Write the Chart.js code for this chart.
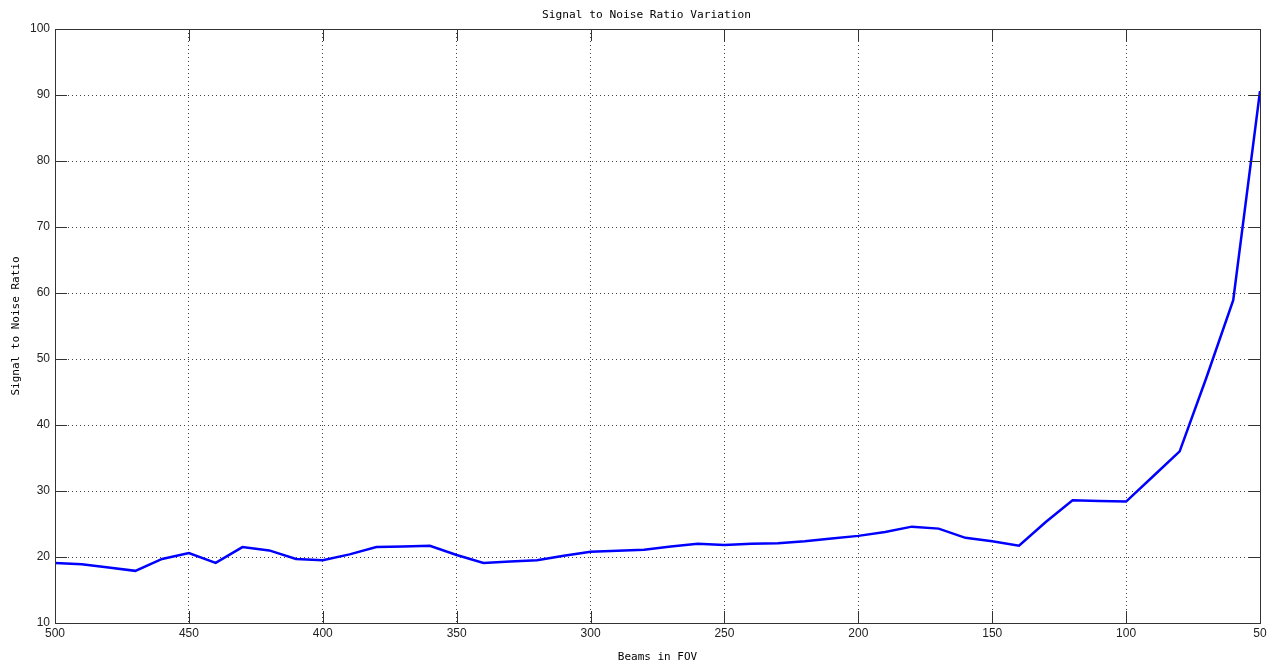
<!DOCTYPE html>
<html>
<head>
<meta charset="utf-8">
<script src="https://cdn.jsdelivr.net/npm/chart.js@4/dist/chart.umd.min.js"></script>
<style>
html,body{margin:0;padding:0;background:#fff;}
#wrap{width:1275px;height:664px;position:relative;}
</style>
</head>
<body>
<div id="wrap"><canvas id="c" width="1275" height="664"></canvas></div>
<script>
const beams = [500,490,480,470,460,450,440,430,420,410,400,390,380,370,360,350,340,330,320,310,300,290,280,270,260,250,240,230,220,210,200,190,180,170,160,150,140,130,120,110,100,90,80,70,60,50];
const snr   = [19.1,18.9,18.4,17.9,19.7,20.6,19.1,21.5,21.0,19.7,19.5,20.4,21.5,21.6,21.7,20.3,19.1,19.3,19.5,20.2,20.8,20.95,21.1,21.6,22.0,21.8,22.0,22.1,22.4,22.8,23.2,23.8,24.6,24.3,22.9,22.4,21.7,25.3,28.6,28.5,28.4,32.2,36.0,47.2,58.9,90.6];
const xTicksStep = 50;
const yTicksStep = 10;
const titleText = 'Signal to Noise Ratio Variation';
const xTitle = 'Beams in FOV';
const yTitle = 'Signal to Noise Ratio';

const mono = "'DejaVu Sans Mono', monospace";
const sans = "'Liberation Sans', Arial, sans-serif";

const boxPlugin = {
  id: 'box',
  afterDraw(chart) {
    const {ctx, chartArea: a, scales: {x, y}} = chart;
    ctx.save();
    // title centred over the plot area
    ctx.fillStyle = '#000';
    ctx.font = "11.2px " + mono;
    ctx.textAlign = 'center';
    ctx.textBaseline = 'middle';
    ctx.fillText(titleText, (a.left + a.right) / 2 - 11, 15);
    ctx.strokeStyle = '#333';
    ctx.lineWidth = 1;
    ctx.setLineDash([]);
    ctx.strokeRect(a.left + 0.5, a.top + 0.5, a.right - a.left, a.bottom - a.top);
    const L = 12;
    ctx.beginPath();
    x.ticks.forEach(t => {
      const px = Math.round(x.getPixelForValue(t.value)) + 0.5;
      ctx.moveTo(px, a.bottom); ctx.lineTo(px, a.bottom - L);
      ctx.moveTo(px, a.top); ctx.lineTo(px, a.top + L);
    });
    y.ticks.forEach(t => {
      const py = Math.round(y.getPixelForValue(t.value)) + 0.5;
      ctx.moveTo(a.left, py); ctx.lineTo(a.left + L, py);
      ctx.moveTo(a.right, py); ctx.lineTo(a.right - L, py);
    });
    ctx.stroke();
    ctx.restore();
  }
};

new Chart(document.getElementById('c'), {
  type: 'line',
  data: {
    datasets: [{
      data: beams.map((b, i) => ({x: b, y: snr[i]})),
      borderColor: '#0000ff',
      borderWidth: 2.5,
      pointRadius: 0,
      tension: 0,
      fill: false
    }]
  },
  options: {
    responsive: false,
    animation: false,
    devicePixelRatio: 1,
    layout: {padding: {left: 0, right: 15, top: 29, bottom: 0}},
    plugins: {
      legend: {display: false},
      tooltip: {enabled: false},
      title: {display: false}
    },
    scales: {
      x: {
        type: 'linear',
        reverse: true,
        min: 50, max: 500,
        afterFit(s) { s.height = 41; },
        ticks: {stepSize: xTicksStep, color: '#222', font: {family: sans, size: 12}, padding: 3, maxRotation: 0},
        grid: {color: '#444', lineWidth: 1, drawTicks: false},
        border: {display: true, color: '#333', dash: [1, 3]},
        title: {display: true, text: xTitle, color: '#000', font: {family: mono, size: 11}, padding: {top: 2, bottom: 0}}
      },
      y: {
        type: 'linear',
        min: 10, max: 100,
        afterFit(s) { s.width = 55; },
        ticks: {stepSize: yTicksStep, color: '#222', font: {family: sans, size: 12}, padding: 5},
        grid: {color: '#444', lineWidth: 1, drawTicks: false},
        border: {display: true, color: '#333', dash: [1, 3]},
        title: {display: true, text: yTitle, color: '#000', font: {family: mono, size: 11}, padding: {top: 10, bottom: 0}}
      }
    }
  },
  plugins: [boxPlugin]
});
</script>
</body>
</html>
